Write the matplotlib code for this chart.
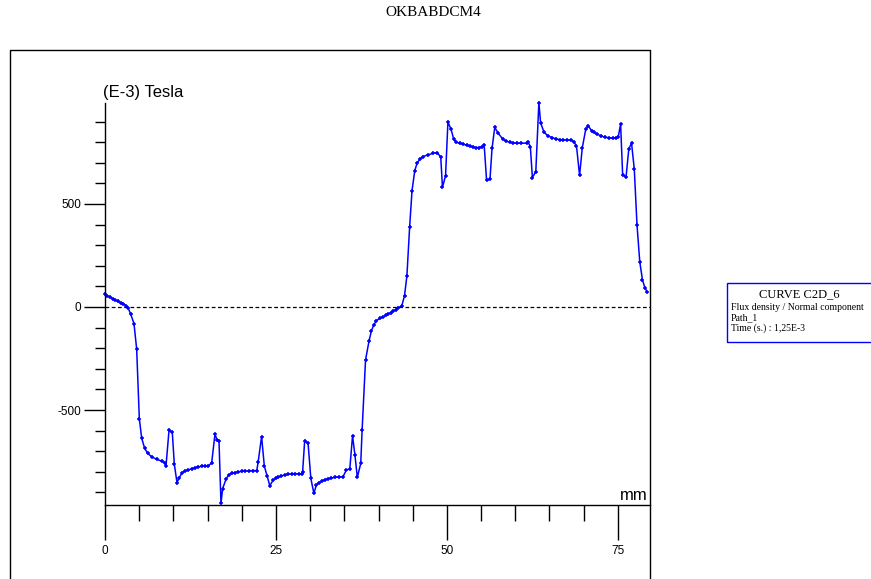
import matplotlib.pyplot as plt
from matplotlib.lines import Line2D
from matplotlib.patches import Rectangle
from matplotlib.ticker import MultipleLocator
import numpy as np

# position along path (mm)
pos_mm = [0.0, 0.3, 0.7, 1.1, 1.5, 1.9, 2.3, 2.7, 3.1, 3.4, 3.75, 4.24, 4.63, 5.02, 5.36,
          5.8, 6.24, 6.82, 7.55, 8.29, 8.77, 8.92, 9.36, 9.84, 10.13, 10.53, 10.82, 11.3,
          11.7, 12.18, 12.7, 13.16, 13.6, 14.14, 14.6, 15.1, 15.6, 16.08, 16.4, 16.67, 16.96,
          17.2, 17.7, 18.1, 18.5, 19.0, 19.5, 20.0, 20.5, 21.0, 21.6, 22.2, 22.4, 22.9,
          23.3, 23.7, 24.1, 24.6, 25.0, 25.3, 25.8, 26.3, 26.8, 27.3, 27.8, 28.3, 28.75,
          28.9, 29.2, 29.7, 30.1, 30.55, 30.9, 31.3, 31.7, 32.2, 32.65, 33.1, 33.6, 34.2,
          34.8, 35.3, 35.8, 36.2, 36.55, 36.9, 37.4, 37.6, 38.1, 38.6, 38.95, 39.3, 39.7,
          40.2, 40.7, 41.1, 41.4, 41.8, 42.15, 42.5, 42.9, 43.4, 43.8, 44.15, 44.55, 44.9,
          45.3, 45.66, 46.05, 46.5, 47.3, 48.0, 48.6, 49.1, 49.35, 49.8, 50.15, 50.6, 51.0,
          51.4, 51.9, 52.4, 52.9, 53.4, 53.8, 54.3, 54.7, 55.1, 55.45, 55.8, 56.3, 56.6,
          57.0, 57.5, 58.2, 58.7, 59.2, 59.7, 60.2, 60.9, 61.65, 61.9, 62.2, 62.5, 63.0,
          63.45, 63.7, 64.2, 64.8, 65.4, 66.0, 66.5, 67.0, 67.6, 68.2, 68.6, 68.95, 69.4,
          69.8, 70.3, 70.65, 71.15, 71.5, 71.9, 72.5, 73.1, 73.7, 74.3, 74.7, 75.05, 75.4,
          75.7, 76.2, 76.6, 77.0, 77.4, 77.8, 78.2, 78.6, 78.95, 79.3]

# flux density, normal component (E-3 Tesla)
flux = [63, 55, 48, 40, 34, 27, 21, 15, 6, -6, -34, -81, -204, -542, -636,
        -686, -710, -727, -739, -748, -756, -772, -599, -607, -761, -853, -830, -804,
        -796, -791, -785, -780, -776, -773, -772, -772, -756, -618, -645, -649, -953,
        -882, -835, -815, -808, -804, -800, -798, -796, -795, -794, -794, -751, -629,
        -772, -820, -867, -840, -832, -827, -820, -815, -812, -810, -809, -810, -812,
        -800, -649, -662, -832, -905, -864, -852, -846, -838, -833, -830, -827, -825,
        -824, -791, -786, -625, -718, -827, -759, -597, -257, -167, -117, -87, -66,
        -55, -47, -41, -35, -28, -21, -13, -3, 5, 55, 151, 389, 565,
        662, 700, 717, 730, 739, 746, 749, 727, 581, 636, 898, 863, 814,
        799, 794, 790, 785, 781, 777, 773, 774, 778, 786, 616, 621, 770,
        872, 843, 814, 805, 799, 797, 795, 795, 795, 799, 778, 628, 657,
        992, 895, 848, 830, 822, 815, 812, 810, 810, 810, 800, 781, 639,
        773, 862, 880, 856, 848, 840, 831, 824, 821, 819, 820, 824, 888,
        641, 632, 767, 795, 670, 398, 220, 131, 94, 71]

x_major = [0, 25, 50, 75]
y_major = [-500, 0, 500]

plt.rcParams['font.family'] = ['Liberation Sans', 'DejaVu Sans']
plt.rcParams['axes.unicode_minus'] = False

W, H = 871, 579
fig = plt.figure(figsize=(W / 100, H / 100), dpi=100)
ax = fig.add_axes([105 / W, 1 - 505 / H, 545 / W, 402 / H])

ax.plot(pos_mm, flux, color='#0000ff', lw=1.1, marker='+', ms=3.5, mew=1.1, clip_on=False)
ax.axhline(0, color='black', lw=0.9, ls=(0, (3, 2)))

ax.set_xlim(0, 79.7)
ax.set_ylim(-961, 990)

for s in ['top', 'right']:
    ax.spines[s].set_visible(False)
for s in ['left', 'bottom']:
    ax.spines[s].set_linewidth(1.0)

ax.set_xticks(x_major)
ax.xaxis.set_minor_locator(MultipleLocator(5))
ax.set_yticks(y_major)
ax.yaxis.set_minor_locator(MultipleLocator(100))
ax.tick_params(axis='x', which='major', direction='out', length=25, width=1.0,
               labelsize=8.5, pad=4)
ax.tick_params(axis='x', which='minor', direction='out', length=11.5, width=1.0)
ax.tick_params(axis='y', which='major', direction='out', length=15, width=1.0,
               labelsize=8.5, pad=2)
ax.tick_params(axis='y', which='minor', direction='out', length=7.5, width=1.0)

fig.text(103 / W, 1 - 93 / H, '(E-3) Tesla', fontsize=12, ha='left', va='center')
fig.text(648 / W, 1 - 495 / H, 'mm', fontsize=12, ha='right', va='center')

# title and outer frame
fig.text(433 / W, 1 - 12 / H, 'OKBABDCM4', family='Liberation Serif', fontsize=11,
         ha='center', va='center')
fx0, fx1, fy = 10 / W, 650 / W, 1 - 50 / H
fig.add_artist(Line2D([fx0, fx0, fx1, fx1], [0, fy, fy, 0], color='black', lw=1.0))

# curve info box
fig.add_artist(Rectangle((727 / W, 1 - 342 / H), 150 / W, 59 / H, transform=fig.transFigure,
                         fill=False, edgecolor='#0000ff', lw=1.0))
fig.text(799 / W, 1 - 294 / H, 'CURVE C2D_6', family='Liberation Serif', fontsize=9,
         ha='center', va='center')
info = ['Flux density / Normal component', 'Path_1', 'Time (s.) : 1,25E-3']
for i, t in enumerate(info):
    fig.text(731 / W, 1 - (308 + 10 * i) / H, t, family='Liberation Serif', fontsize=7,
             ha='left', va='center')

fig.savefig('out.png', dpi=100)
